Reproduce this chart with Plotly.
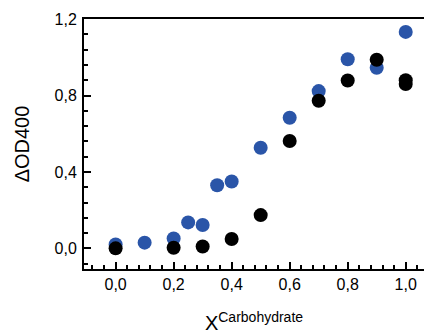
import plotly.graph_objects as go

x_blue = [0.0, 0.1, 0.2, 0.25, 0.3, 0.35, 0.4, 0.5, 0.6, 0.7, 0.8, 0.9, 1.0]
y_blue = [0.02, 0.03, 0.052, 0.136, 0.122, 0.33, 0.35, 0.527, 0.684, 0.823, 0.99, 0.945, 1.133]

x_black = [0.0, 0.2, 0.3, 0.4, 0.5, 0.6, 0.7, 0.8, 0.9, 1.0, 1.0]
y_black = [0.0, 0.003, 0.01, 0.049, 0.174, 0.562, 0.773, 0.879, 0.987, 0.88, 0.86]

x_ticks = [0.0, 0.2, 0.4, 0.6, 0.8, 1.0]
y_ticks = [0.0, 0.4, 0.8, 1.2]

FONT = "Arial, Liberation Sans, sans-serif"

fig = go.Figure()
fig.add_trace(go.Scatter(x=x_blue, y=y_blue, mode="markers",
                         marker=dict(size=14, color="#2a55a8"), showlegend=False))
fig.add_trace(go.Scatter(x=x_black, y=y_black, mode="markers",
                         marker=dict(size=14, color="#000000"), showlegend=False))

fig.update_layout(
    width=424, height=334,
    margin=dict(l=84, r=0, t=19, b=63),
    plot_bgcolor="white", paper_bgcolor="white",
    separators=",.",
    font=dict(family=FONT, color="black", size=16),
    xaxis=dict(
        range=[-0.109, 1.063], tickvals=x_ticks, tickformat=".1f",
        ticks="inside", ticklen=7, tickwidth=2, tickcolor="black",
        minor=dict(dtick=0.04, tick0=0, ticks="inside", ticklen=4, tickwidth=2, tickcolor="black"),
        showline=True, linewidth=2, linecolor="black", mirror=True,
        showgrid=False, zeroline=False,
        tickfont=dict(size=16),
        title=dict(text="X<sup>Carbohydrate</sup>", font=dict(size=20), standoff=27),
    ),
    yaxis=dict(
        range=[-0.108, 1.2005], tickvals=y_ticks, tickformat=".1f",
        ticks="inside", ticklen=7, tickwidth=2, tickcolor="black",
        minor=dict(dtick=0.08, tick0=0, ticks="inside", ticklen=4, tickwidth=2, tickcolor="black"),
        showline=True, linewidth=2, linecolor="black", mirror=False,
        showgrid=False, zeroline=False,
        tickfont=dict(size=16), ticklabelstandoff=2,
        title=dict(text="ΔOD400", font=dict(size=20), standoff=20),
    ),
)

fig.write_html("out.html")
